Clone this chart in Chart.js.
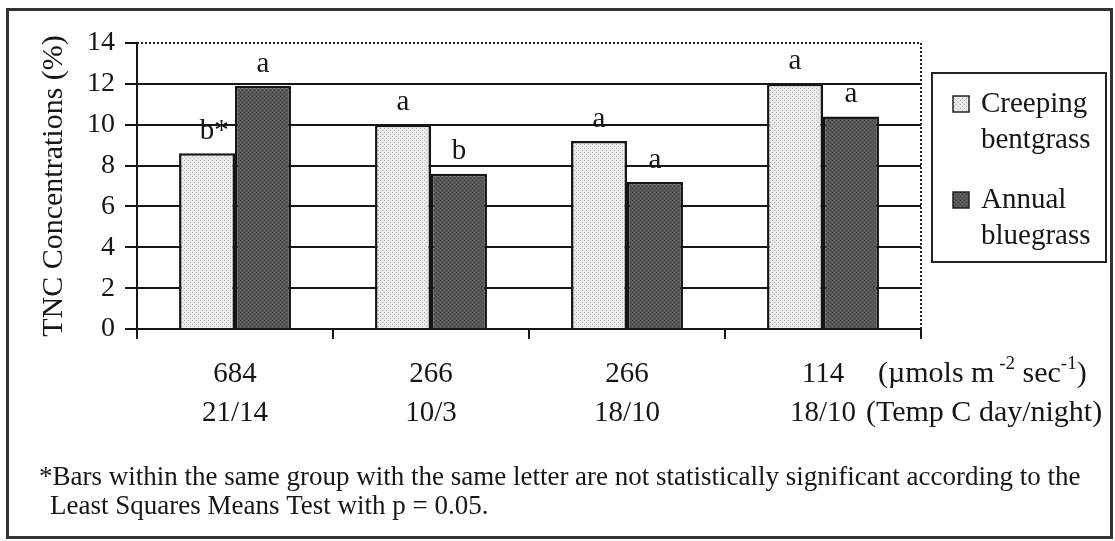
<!DOCTYPE html>
<html>
<head>
<meta charset="utf-8">
<script src="https://cdn.jsdelivr.net/npm/chart.js@4.4.1/dist/chart.umd.min.js"></script>
<style>
  html, body { margin: 0; padding: 0; background: #fff; }
  #wrap { width: 1115px; height: 541px; }
</style>
</head>
<body>
<div id="wrap"><canvas id="tncChart"></canvas></div>
<script>
// data
const lightLevels = ["684", "266", "266", "114"];
const tempRegimes = ["21/14", "10/3", "18/10", "18/10"];
const seriesNames = ["Creeping bentgrass", "Annual bluegrass"];
const creepingTNC = [8.6, 10.0, 9.2, 12.0];
const annualTNC = [11.9, 7.6, 7.2, 10.4];
const creepingLetters = ["b*", "a", "a", "a"];
const annualLetters = ["a", "b", "a", "a"];
const yTicks = [0, 2, 4, 6, 8, 10, 12, 14];
const footnote = [
  "*Bars within the same group with the same letter are not statistically significant according to the",
  "Least Squares Means Test with p = 0.05."
];

const SERIF = '"Liberation Serif", "Times New Roman", serif';
const INK = "#161616";

const ctx = document.getElementById("tncChart").getContext("2d");

// stippled fills like the scanned print
function stipple(base, dot, dot2) {
  const c = document.createElement("canvas");
  c.width = 4; c.height = 4;
  const g = c.getContext("2d");
  g.fillStyle = base;
  g.fillRect(0, 0, 4, 4);
  g.fillStyle = dot;
  g.fillRect(0, 0, 1, 1);
  g.fillRect(2, 2, 1, 1);
  if (dot2) {
    g.fillStyle = dot2;
    g.fillRect(2, 0, 1, 1);
    g.fillRect(0, 2, 1, 1);
  }
  return ctx.createPattern(c, "repeat");
}
const lightFill = stipple("#e8e8e8", "#bdbdbd");
const darkFill = stipple("#565656", "#434343", "#666666");

const letterSets = [creepingLetters, annualLetters];

const decor = {
  id: "decor",
  beforeDraw(chart) {
    const c = chart.ctx;
    c.save();
    c.fillStyle = "#fff";
    c.fillRect(0, 0, chart.width, chart.height);
    c.restore();
  },
  afterDatasetsDraw(chart) {
    const c = chart.ctx;
    c.save();
    c.font = "29px " + SERIF;
    c.fillStyle = INK;
    c.textAlign = "left";
    c.textBaseline = "middle";
    chart.data.datasets.forEach((ds, di) => {
      chart.getDatasetMeta(di).data.forEach((bar, i) => {
        const txt = letterSets[di][i];
        const w0 = c.measureText(txt[0]).width;
        c.fillText(txt, bar.x - w0 / 2, bar.y - 22);
      });
    });
    c.restore();
  },
  afterDraw(chart) {
    const c = chart.ctx;
    const a = chart.chartArea;
    c.save();

    // dotted top and right edges of the plot
    c.strokeStyle = "#222";
    c.lineWidth = 2;
    c.setLineDash([2, 2]);
    c.beginPath();
    c.moveTo(a.left, a.top);
    c.lineTo(a.right, a.top);
    c.lineTo(a.right, a.bottom);
    c.stroke();
    c.setLineDash([]);

    // unit captions next to the category labels
    c.fillStyle = INK;
    c.textAlign = "left";
    c.textBaseline = "middle";
    let x = 878;
    const y1 = 374;
    const parts = [["(\u00b5mols m", false], [" -2", true], [" sec", false], ["-1", true], [")", false]];
    parts.forEach(([t, sup]) => {
      c.font = (sup ? "19px " : "30px ") + SERIF;
      c.fillText(t, x, sup ? y1 - 10 : y1);
      x += c.measureText(t).width;
    });
    c.font = "30px " + SERIF;
    c.fillText("(Temp C day/night)", 866, 413);

    // legend
    c.lineWidth = 2;
    c.strokeStyle = "#222";
    c.strokeRect(932, 73, 174, 189);
    const fills = [lightFill, darkFill];
    seriesNames.forEach((name, i) => {
      const top = i === 0 ? 104 : 200;
      c.fillStyle = fills[i];
      c.fillRect(953, top - 8, 16, 16);
      c.strokeStyle = "#222";
      c.lineWidth = 1.5;
      c.strokeRect(953, top - 8, 16, 16);
      c.fillStyle = INK;
      c.font = "29px " + SERIF;
      const words = name.split(" ");
      c.fillText(words[0], 981, top);
      c.fillText(words[1], 981, top + 36);
    });

    // footnote
    c.font = "27px " + SERIF;
    c.fillText(footnote[0], 39, 478, 1046);
    c.fillText(footnote[1], 50, 507, 1046);

    // outer frame
    c.strokeStyle = "#333";
    c.lineWidth = 3;
    c.strokeRect(7.5, 9.5, 1104, 528);
    c.restore();
  }
};

new Chart(ctx, {
  type: "bar",
  data: {
    labels: lightLevels.map((l, i) => [l, tempRegimes[i]]),
    datasets: [
      {
        label: seriesNames[0],
        data: creepingTNC,
        backgroundColor: lightFill,
        borderColor: INK,
        borderWidth: 2.5
      },
      {
        label: seriesNames[1],
        data: annualTNC,
        backgroundColor: darkFill,
        borderColor: INK,
        borderWidth: 2.5
      }
    ]
  },
  options: {
    responsive: true,
    maintainAspectRatio: false,
    animation: false,
    layout: { padding: { left: 0, top: 43, right: 194, bottom: 0 } },
    datasets: {
      bar: { categoryPercentage: 0.571, barPercentage: 1 }
    },
    scales: {
      x: {
        offset: true,
        grid: {
          offset: true,
          drawOnChartArea: false,
          drawTicks: true,
          tickLength: 10,
          color: INK,
          lineWidth: 2
        },
        border: { color: INK, width: 2 },
        ticks: {
          color: INK,
          font: { family: SERIF, size: 29, lineHeight: 1.34 },
          padding: 16,
          maxRotation: 0,
          autoSkip: false
        },
        afterFit: s => { s.height = 212; }
      },
      y: {
        min: 0,
        max: 14,
        afterBuildTicks: s => { s.ticks = yTicks.map(v => ({ value: v })); },
        grid: {
          color: c => (c.tick && c.tick.value === 14 ? "rgba(0,0,0,0)" : INK),
          tickColor: INK,
          lineWidth: 2,
          tickLength: 12
        },
        border: { color: INK, width: 2 },
        ticks: {
          color: INK,
          font: { family: SERIF, size: 28 },
          padding: 10
        },
        title: {
          display: true,
          text: "TNC Concentrations (%)",
          color: INK,
          font: { family: SERIF, size: 30 },
          padding: { top: 36, bottom: 0 }
        },
        afterFit: s => { s.width = 137; }
      }
    },
    plugins: {
      legend: { display: false },
      tooltip: { enabled: false }
    }
  },
  plugins: [decor]
});
</script>
</body>
</html>
